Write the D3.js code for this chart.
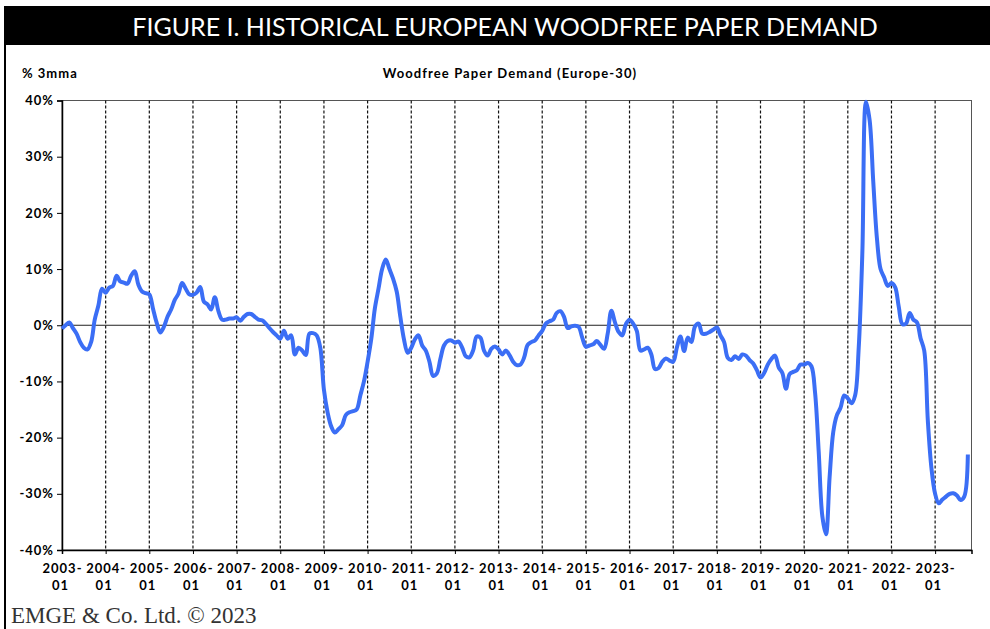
<!DOCTYPE html>
<html>
<head>
<meta charset="utf-8">
<script src="https://cdn.jsdelivr.net/npm/d3@7"></script>
<style>
  body { margin: 0; background: #fff; }
  .axis text { font-family: Lato, "Open Sans", sans-serif; font-weight: bold; font-size: 13px; letter-spacing: 1px; fill: #000; }
</style>
</head>
<body>
<div id="chart"></div>
<script>
// monthly % change (3mma), Jan 2003 .. Oct 2023
var v2003 = [-0.6, 0, 0.5, -0.5, -1.5, -3.0, -4.0, -4.3, -3.0, 1.0, 3.5, 6.5]
var v2004 = [5.8, 6.7, 7.0, 8.8, 7.8, 7.6, 7.4, 8.8, 9.6, 7.2, 6.0, 5.7]
var v2005 = [5.5, 3.0, 0.5, -1.3, -0.3, 1.5, 2.8, 4.5, 5.6, 7.5, 6.5, 5.5]
var v2006 = [5.4, 5.8, 6.8, 4.2, 3.7, 2.8, 5.0, 2.5, 1.0, 1.0, 1.2, 1.2]
var v2007 = [1.4, 0.8, 1.5, 2.0, 2.0, 1.5, 1.0, 0.9, 0.3, -0.5, -1.2, -1.8]
var v2008 = [-2.4, -1.0, -2.4, -1.8, -5.2, -4.0, -4.5, -5.3, -1.5, -1.4, -1.8, -4.0]
var v2009 = [-11.5, -15.5, -18.0, -19.1, -18.5, -17.8, -16.0, -15.5, -15.3, -15.0, -12.5, -10.0]
var v2010 = [-6.5, -2.5, 3.0, 6.5, 10.0, 11.7, 10.0, 8.3, 6.0, 1.5, -2.5, -4.9]
var v2011 = [-4.0, -2.5, -1.8, -3.6, -4.5, -6.5, -9.0, -8.6, -6.0, -3.6, -2.8, -2.7]
var v2012 = [-3.1, -2.9, -4.0, -5.5, -5.7, -4.5, -2.0, -2.2, -4.5, -5.4, -4.2, -3.8]
var v2013 = [-4.3, -5.2, -4.5, -5.3, -6.5, -7.1, -7.0, -5.8, -3.5, -3.0, -2.7, -1.8]
var v2014 = [-1.0, 0.3, 0.7, 1.0, 2.2, 2.5, 1.5, -0.5, -0.2, -0.1, -0.3, -2.2]
var v2015 = [-3.8, -3.6, -3.4, -2.8, -3.5, -4.2, -1.5, 2.6, 0.5, -1.2, -1.8, 0.2]
var v2016 = [1.0, 0.3, -1.0, -4.5, -4.3, -4.0, -5.2, -7.8, -7.6, -6.5, -5.9, -6.3]
var v2017 = [-6.5, -4.0, -2.0, -4.6, -2.2, -3.0, -0.2, 0.3, -1.5, -1.5, -1.2, -0.8]
var v2018 = [-0.4, -1.8, -3.0, -5.8, -6.2, -5.5, -6.0, -5.2, -5.4, -6.2, -6.8, -8.0]
var v2019 = [-9.3, -8.5, -7.0, -6.0, -5.4, -7.5, -8.5, -11.3, -8.7, -8.3, -8.0, -7.0]
var v2020 = [-7.0, -6.7, -7.3, -12.0, -22.5, -34.0, -37.2, -27.0, -19.0, -16.0, -14.7, -12.5]
var v2021 = [-13.0, -13.9, -12.5, -4.0, 13.0, 39.8, 36.5, 25.5, 15.5, 10.0, 8.5, 7.0]
var v2022 = [7.5, 6.8, 3.3, 0.2, 0.3, 2.2, 1.0, 0.5, -2.3, -4.5, -17.0, -25.5]
var v2023 = [-30.0, -31.7, -31.0, -30.5, -30.0, -29.9, -30.3, -31.1, -30.5, -23.0]

var years = d3.range(2003, 2024)
var yTicks = [-40, -30, -20, -10, 0, 10, 20, 30, 40]

var values = [].concat(v2003, v2004, v2005, v2006, v2007, v2008, v2009, v2010,
  v2011, v2012, v2013, v2014, v2015, v2016, v2017, v2018, v2019, v2020,
  v2021, v2022, v2023)

var datapoints = values.map(function(v, i) {
  return { i: i, value: v }
})

var W = 990, H = 629
var margin = { top: 100.5, left: 62, right: 18.5, bottom: 79 }
var width = W - margin.left - margin.right,
    height = H - margin.top - margin.bottom

var root = d3.select("#chart").append("svg")
    .attr("width", W)
    .attr("height", H)

// frame + title bar
root.append("rect")
    .attr("x", 5).attr("y", 7)
    .attr("width", W).attr("height", H)
    .attr("fill", "none")
    .attr("stroke", "#000")
    .attr("stroke-width", 2)

root.append("rect")
    .attr("x", 4).attr("y", 7)
    .attr("width", W).attr("height", 38)
    .attr("fill", "#000")

root.append("text")
    .text("FIGURE I. HISTORICAL EUROPEAN WOODFREE PAPER DEMAND")
    .attr("x", 505)
    .attr("y", 36)
    .attr("text-anchor", "middle")
    .attr("font-family", "Lato, 'Open Sans', sans-serif")
    .attr("font-size", "25px")
    .attr("fill", "#fff")

root.append("text")
    .text("EMGE & Co. Ltd. \u00A9 2023")
    .attr("x", 11)
    .attr("y", 623)
    .attr("font-family", "'Liberation Serif', 'DejaVu Serif', serif")
    .attr("font-size", "23px")
    .attr("fill", "#333")

var svg = root.append("g")
    .attr("transform", "translate(" + margin.left + "," + margin.top + ")")

var xPositionScale = d3.scaleLinear()
    .domain([0, 250])
    .range([0, width])

var yPositionScale = d3.scaleLinear()
    .domain([-40, 40])
    .range([height, 0])

svg.append("text")
    .text("% 3mma")
    .attr("x", 22 - margin.left)
    .attr("y", 78 - margin.top)
    .attr("font-family", "Lato, sans-serif")
    .attr("font-weight", "bold")
    .attr("font-size", "13px")
    .attr("letter-spacing", "1px")

svg.append("text")
    .text("Woodfree Paper Demand (Europe-30)")
    .attr("x", 448)
    .attr("y", 78 - margin.top)
    .attr("text-anchor", "middle")
    .attr("font-family", "Lato, sans-serif")
    .attr("font-weight", "bold")
    .attr("font-size", "13px")
    .attr("letter-spacing", "1.1px")

// plot border
svg.append("rect")
    .attr("width", width)
    .attr("height", height)
    .attr("fill", "none")
    .attr("stroke", "#555")
    .attr("stroke-width", 1)

// year gridlines
svg.selectAll(".year-line")
    .data(years.slice(1))
    .enter().append("line")
    .attr("class", "year-line")
    .attr("x1", function(d) { return xPositionScale((d - 2003) * 12) })
    .attr("x2", function(d) { return xPositionScale((d - 2003) * 12) })
    .attr("y1", 0)
    .attr("y2", height)
    .attr("stroke", "#111")
    .attr("stroke-width", 1.2)
    .attr("stroke-dasharray", "3,2")

var yAxis = d3.axisLeft(yPositionScale)
    .tickValues(yTicks)
    .tickSize(5)
    .tickPadding(3)
    .tickFormat(function(d) { return d + "%" })

svg.append("g")
    .attr("class", "axis y-axis")
    .call(yAxis)
    .call(function(g) { g.select(".domain").attr("stroke", "#000").attr("stroke-width", 1.5) })

svg.append("line")
    .attr("x1", 0).attr("x2", width)
    .attr("y1", yPositionScale(0)).attr("y2", yPositionScale(0))
    .attr("stroke", "#222")
    .attr("stroke-width", 1)

var xAxis = d3.axisBottom(xPositionScale)
    .tickValues(years.map(function(d) { return (d - 2003) * 12 }))
    .tickSize(4)
    .tickFormat("")

var xg = svg.append("g")
    .attr("class", "axis x-axis")
    .attr("transform", "translate(0," + height + ")")
    .call(xAxis)
xg.select(".domain").attr("stroke", "#000").attr("stroke-width", 1.5)

xg.selectAll(".tick")
    .append("text")
    .attr("text-anchor", "middle")
    .attr("y", 23)
    .text(function(d) { return (2003 + d / 12) + "-" })
xg.selectAll(".tick")
    .append("text")
    .attr("text-anchor", "middle")
    .attr("x", -2)
    .attr("y", 40)
    .text("01")

var line = d3.line()
    .x(function(d) { return xPositionScale(d.i) })
    .y(function(d) { return yPositionScale(d.value) })
    .curve(d3.curveCatmullRom)

svg.append("path")
    .datum(datapoints)
    .attr("d", line)
    .attr("fill", "none")
    .attr("stroke", "#3b6ef5")
    .attr("stroke-width", 4)
    .attr("stroke-linejoin", "round")
</script>
</body>
</html>
